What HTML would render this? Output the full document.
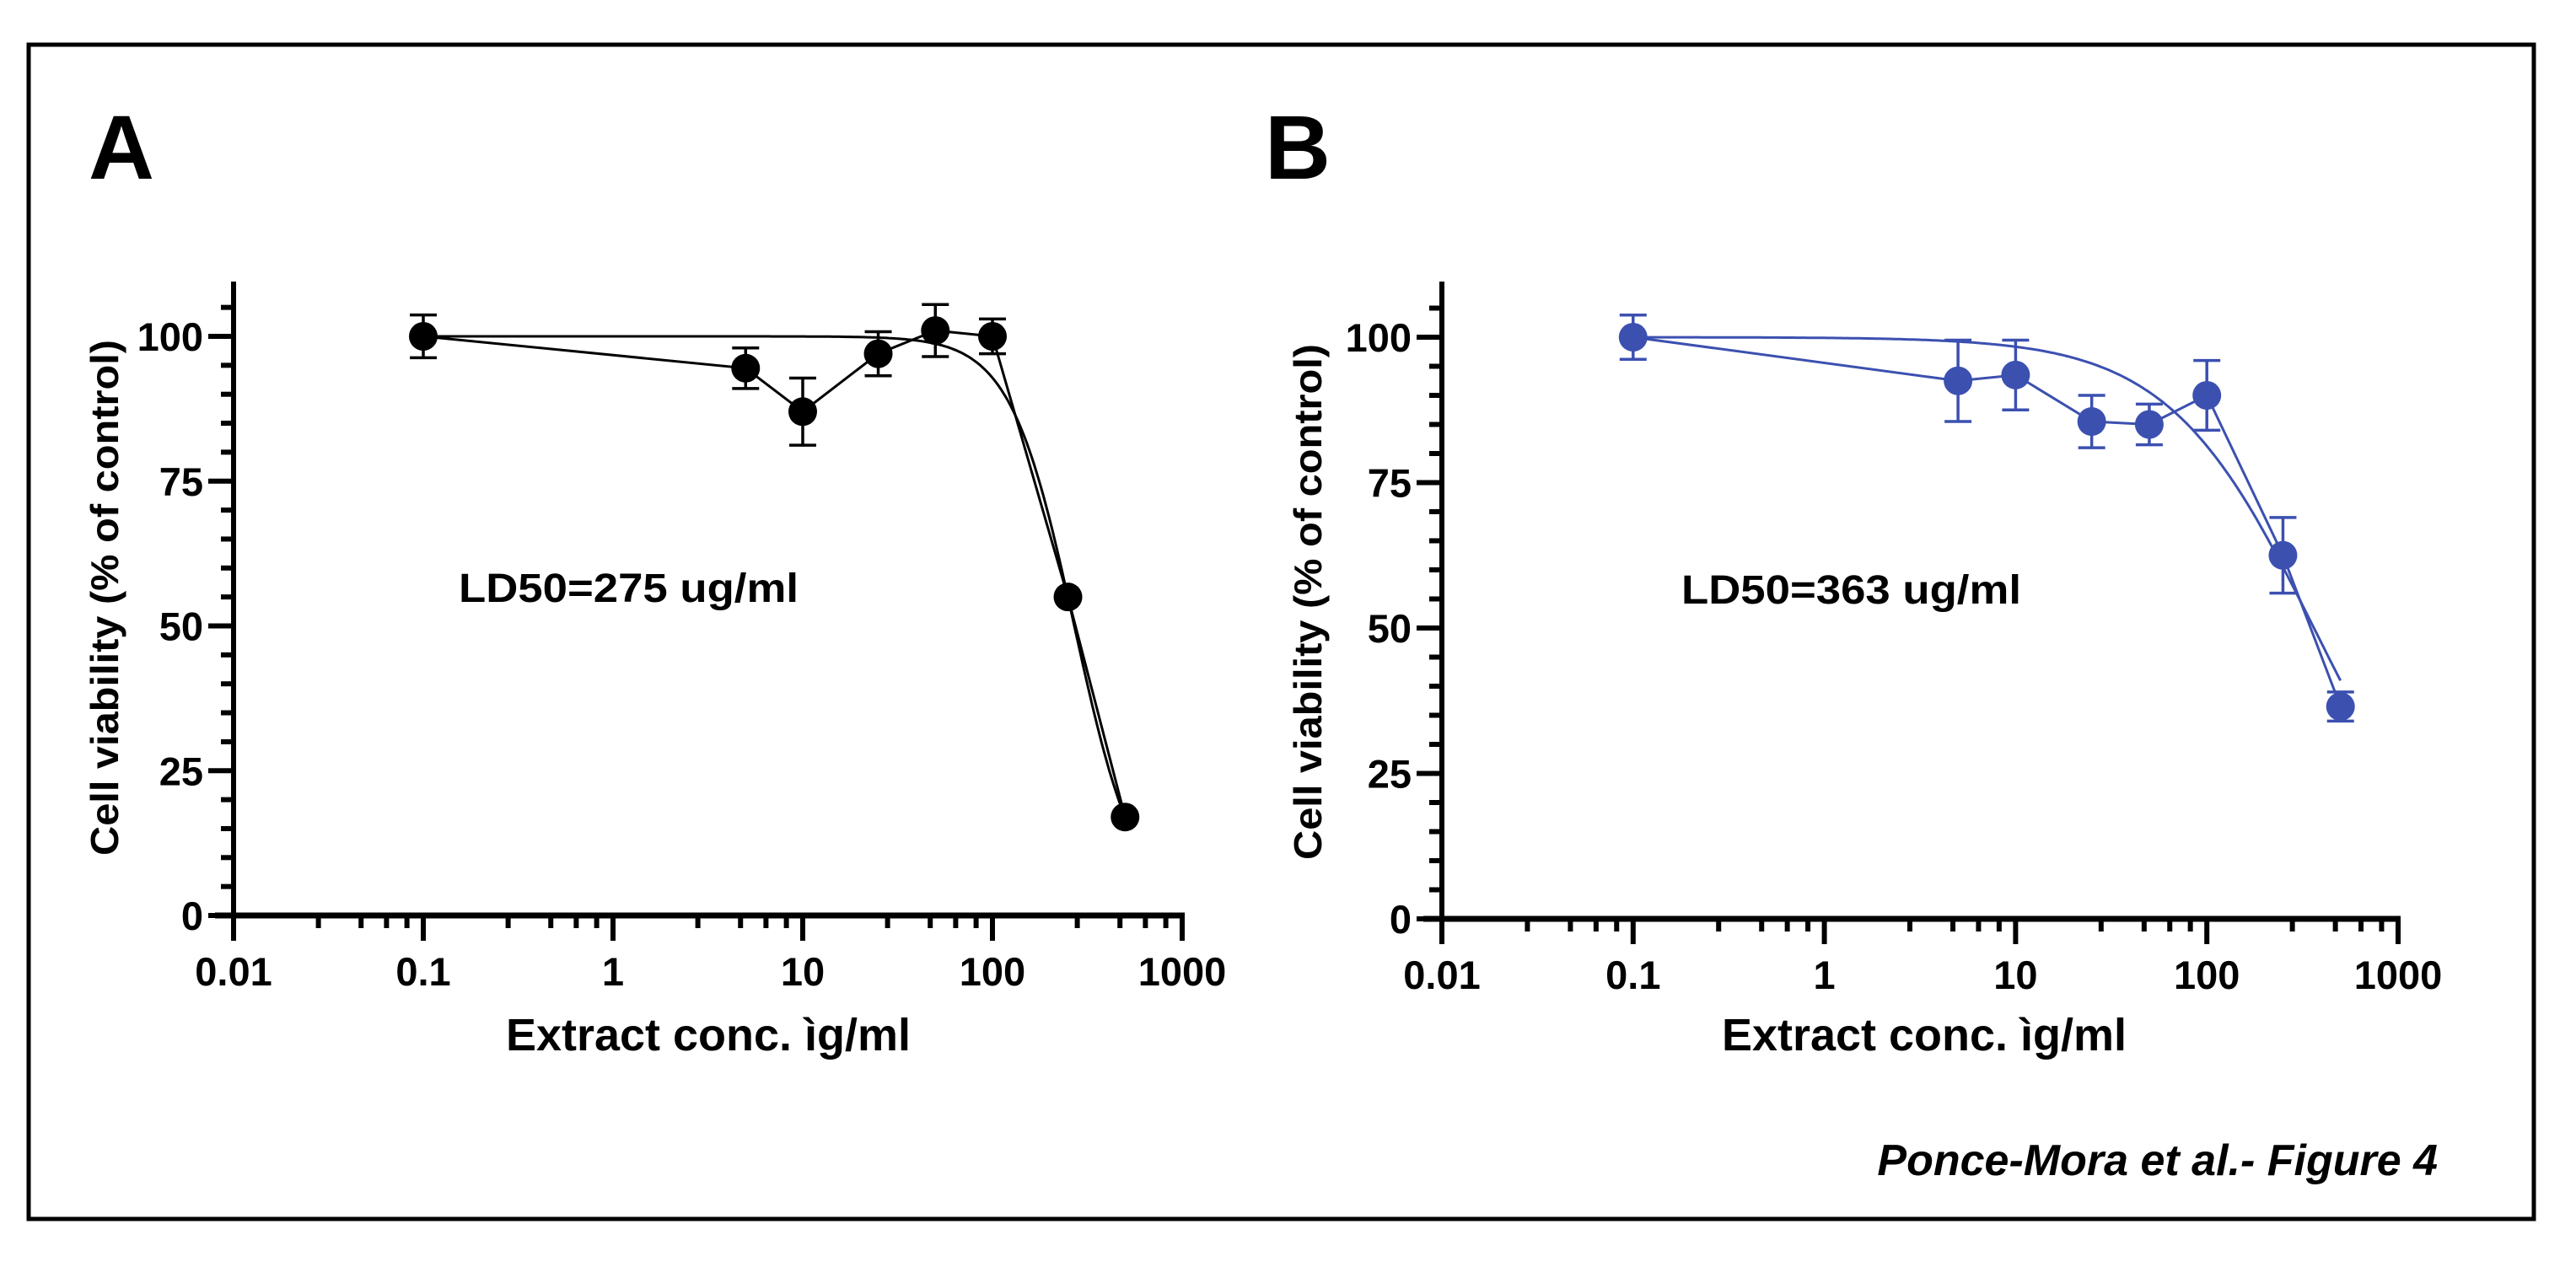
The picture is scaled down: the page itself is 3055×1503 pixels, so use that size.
<!DOCTYPE html>
<html><head><meta charset="utf-8"><style>
html,body{margin:0;padding:0;background:#fff;}
svg text{font-family:"Liberation Sans",Arial,sans-serif;font-weight:bold;}
</style></head><body>
<svg id="fig" width="3055" height="1498" viewBox="0 0 3055 1498" xmlns="http://www.w3.org/2000/svg">
<rect x="0" y="0" width="3055" height="1498" fill="#fff"/>
<rect x="34" y="53" width="2971" height="1393" fill="none" stroke="#000" stroke-width="5"/>
<text x="105" y="212" font-size="108">A</text>
<text x="1500" y="212" font-size="108">B</text>
<text x="2891" y="1394" font-size="52" font-style="italic" text-anchor="end">Ponce-Mora et al.- Figure 4</text>
<g id="panelA"></g>
<g id="panelB"></g>
</svg>
<script>
const concentrations = [0.1, 5, 10, 25, 50, 100, 250, 500];
const viabilityA = [100, 94.5, 87, 97, 101, 100, 55, 17];
const errorA = [3.7, 3.5, 5.8, 3.8, 4.5, 3, 0, 0];
const viabilityB = [100, 92.5, 93.5, 85.5, 85, 90, 62.5, 36.5];
const errorB = [3.8, 7, 6, 4.5, 3.5, 6, 6.5, 2.5];
const ld50A = 270, hillA = 2.58;
const ld50B = 363, hillB = 1.14;
const xTickValues = [0.01, 0.1, 1, 10, 100, 1000];
const xTickLabels = ["0.01", "0.1", "1", "10", "100", "1000"];
const yTickValues = [0, 25, 50, 75, 100];
const yTickLabels = ["0", "25", "50", "75", "100"];

const NS = "http://www.w3.org/2000/svg";
function mk(parent, tag, attrs, text) {
  const e = document.createElementNS(NS, tag);
  for (const k in attrs) e.setAttribute(k, attrs[k]);
  if (text !== undefined) e.textContent = text;
  parent.appendChild(e);
  return e;
}

function drawPanel(g, cfg, vals, errs, ld50, hill, ldText) {
  const xs = v => cfg.x0 + (Math.log10(v) + 2) * cfg.dec;
  const ys = v => cfg.y0 - v * cfg.py;
  const col = cfg.color;
  let e = mk(g, "line", {x1: cfg.x0, y1: cfg.top, x2: cfg.x0, y2: cfg.y0 + 3, stroke: "#000", "stroke-width": 6});
  
  
  e = mk(g, "line", {x1: cfg.x0 - 22, y1: cfg.y0, x2: xs(1000) + 3, y2: cfg.y0, stroke: "#000", "stroke-width": 7});
  
  
  for (let v = 0; v <= 105; v += 5) {
    const major = v % 25 === 0;
    e = mk(g, "line", {x1: cfg.x0 - (major ? 30 : 15), y1: ys(v), x2: cfg.x0, y2: ys(v), stroke: "#000", "stroke-width": 6});
    
    
  }
  yTickValues.forEach((v, i) => {
    const t = mk(g, "text", {x: cfg.x0 - 36, y: ys(v) + 17, "font-size": 47, "text-anchor": "end"}, yTickLabels[i]);
    
    
  });
  xTickValues.forEach((v, i) => {
    e = mk(g, "line", {x1: xs(v), y1: cfg.y0, x2: xs(v), y2: cfg.y0 + 30, stroke: "#000", "stroke-width": 6});
    
    
    const t = mk(g, "text", {x: xs(v), y: cfg.y0 + 83, "font-size": 47, "text-anchor": "middle"}, xTickLabels[i]);
    
    
    if (i < xTickValues.length - 1) {
      [2.8, 4.7, 6.4, 8.2].forEach(m => {
        e = mk(g, "line", {x1: xs(v * m), y1: cfg.y0, x2: xs(v * m), y2: cfg.y0 + 15, stroke: "#000", "stroke-width": 6});
        
        
      });
    }
  });
  e = mk(g, "text", {x: cfg.xt, y: 1246, "font-size": 54, "text-anchor": "middle", textLength: 480, lengthAdjust: "spacingAndGlyphs"}, "Extract conc. ìg/ml");
  
  
  e = mk(g, "text", {x: 0, y: 0, "font-size": 46, "text-anchor": "middle", textLength: 612, lengthAdjust: "spacingAndGlyphs", transform: `translate(${cfg.ytx},${cfg.yty}) rotate(-90)`}, "Cell viability (% of control)");
  
  
  e = mk(g, "text", {x: cfg.ldx, y: cfg.ldy, "font-size": 48, textLength: 403, lengthAdjust: "spacingAndGlyphs"}, ldText);
  
  
  let d = "";
  for (let k = 0; k <= 300; k++) {
    const lv = -1 + k * (Math.log10(500) + 1) / 300;
    const x = Math.pow(10, lv);
    const y = 100 / (1 + Math.pow(x / ld50, hill));
    d += (k ? "L" : "M") + xs(x).toFixed(1) + "," + ys(y).toFixed(1);
  }
  e = mk(g, "path", {d: d, fill: "none", stroke: col, "stroke-width": 3});
  
  
  const pts = concentrations.map((c, i) => xs(c).toFixed(1) + "," + ys(vals[i]).toFixed(1)).join(" ");
  e = mk(g, "polyline", {points: pts, fill: "none", stroke: col, "stroke-width": 3});
  
  
  concentrations.forEach((c, i) => {
    const x = xs(c), y = ys(vals[i]);
    if (errs[i] > 0) {
      const yt = ys(vals[i] + errs[i]), yb = ys(vals[i] - errs[i]);
      e = mk(g, "path", {d: `M${x},${yt}L${x},${yb}M${x - 16},${yt}L${x + 16},${yt}M${x - 16},${yb}L${x + 16},${yb}`, fill: "none", stroke: col, "stroke-width": 3.5});
      
      
    }
    e = mk(g, "circle", {cx: x, cy: y, r: 17, fill: col});
    
    
  });
}

drawPanel(document.getElementById("panelA"),
  {x0: 277, dec: 225, y0: 1086, py: 6.87, top: 334, color: "#000", xt: 840, ytx: 140, yty: 709, ldx: 544, ldy: 714},
  viabilityA, errorA, ld50A, hillA, "LD50=275 ug/ml");
drawPanel(document.getElementById("panelB"),
  {x0: 1710, dec: 226.8, y0: 1090, py: 6.9, top: 334, color: "#3c50b0", xt: 2282, ytx: 1567, yty: 714, ldx: 1994, ldy: 716},
  viabilityB, errorB, ld50B, hillB, "LD50=363 ug/ml");
</script>
</body></html>
